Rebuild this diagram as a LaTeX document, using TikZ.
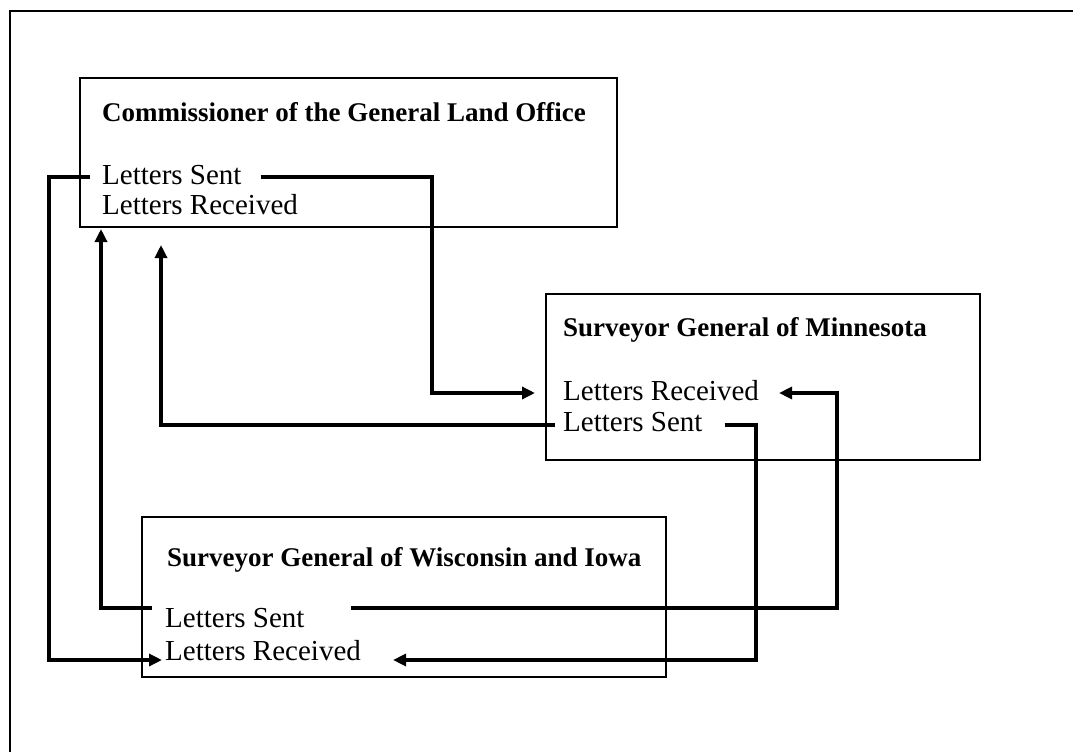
\documentclass[tikz,border=0pt]{standalone}
\usepackage{fontspec}
\setmainfont{Liberation Serif}
\usetikzlibrary{arrows.meta}
\begin{document}
\begin{tikzpicture}[x=1pt,y=-1pt,
  box/.style={draw, line width=1.6pt, inner sep=0pt},
  lbl/.style={anchor=west, inner sep=0pt, text depth=0pt, font=\fontsize{29}{32}\selectfont},
  ttl/.style={anchor=west, inner sep=0pt, text depth=0pt, font=\fontsize{27}{30}\selectfont\bfseries},
  conn/.style={line width=3.6pt},
  arr/.style={conn, -{Triangle[length=13pt,width=12pt]}}]
\useasboundingbox (0,0) rectangle (1073,752);
\fill[white] (0,0) rectangle (1073,752);
\draw[line width=2pt] (10,752) -- (10,11) -- (1073,11);

% boxes
\node[box, minimum width=537pt, minimum height=149pt] (c1) at (348.5,152.5) {};
\node[box, minimum width=434pt, minimum height=166pt] (m2) at (763,377) {};
\node[box, minimum width=524pt, minimum height=160pt] (w3) at (404,597) {};

% texts
\node[ttl] (c1t) at (102,112) {Commissioner of the General Land Office};
\node[lbl] (c1s) at (102,175) {Letters Sent};
\node[lbl] (c1r) at (102,204) {Letters Received};

\node[ttl] (m2t) at (563,327) {Surveyor General of Minnesota};
\node[lbl] (m2r) at (563,390) {Letters Received};
\node[lbl] (m2s) at (563,422) {Letters Sent};

\node[ttl] (w3t) at (167,557) {Surveyor General of Wisconsin and Iowa};
\node[lbl] (w3s) at (165,618) {Letters Sent};
\node[lbl] (w3r) at (165,650) {Letters Received};

% connector ends
\coordinate (c1sL) at ([xshift=-12pt,yshift=-2pt]c1s.west);
\coordinate (c1sR) at ([xshift=19pt,yshift=-2pt]c1s.east);
\coordinate (m2rL) at ([xshift=-28pt,yshift=-3pt]m2r.west);
\coordinate (m2rR) at ([xshift=20pt,yshift=-3pt]m2r.east);
\coordinate (m2sL) at ([xshift=-8pt,yshift=-3pt]m2s.west);
\coordinate (m2sR) at ([xshift=22pt,yshift=-3pt]m2s.east);
\coordinate (w3sL) at ([xshift=-13pt,yshift=10pt]w3s.west);
\coordinate (w3sR) at ([xshift=46pt,yshift=10pt]w3s.east);
\coordinate (w3rL) at ([xshift=-3pt,yshift=-10pt]w3r.west);
\coordinate (w3rR) at ([xshift=32pt,yshift=-10pt]w3r.east);
\coordinate (c1inA) at (101,229);
\coordinate (c1inB) at (161,245);
\coordinate (bendA) at (432,300);
\coordinate (bendB) at (837,500);
\coordinate (bendD) at (756,550);
\coordinate (bendF) at (49,400);

% connectors
\draw[arr] (c1sR) -| (bendA) |- (m2rL);
\draw[arr] (w3sR) -| (bendB) |- (m2rR);
\draw[arr] (m2sL) -| (c1inB);
\draw[arr] (m2sR) -| (bendD) |- (w3rR);
\draw[arr] (w3sL) -| (c1inA);
\draw[arr] (c1sL) -| (bendF) |- (w3rL);
\end{tikzpicture}
\end{document}
